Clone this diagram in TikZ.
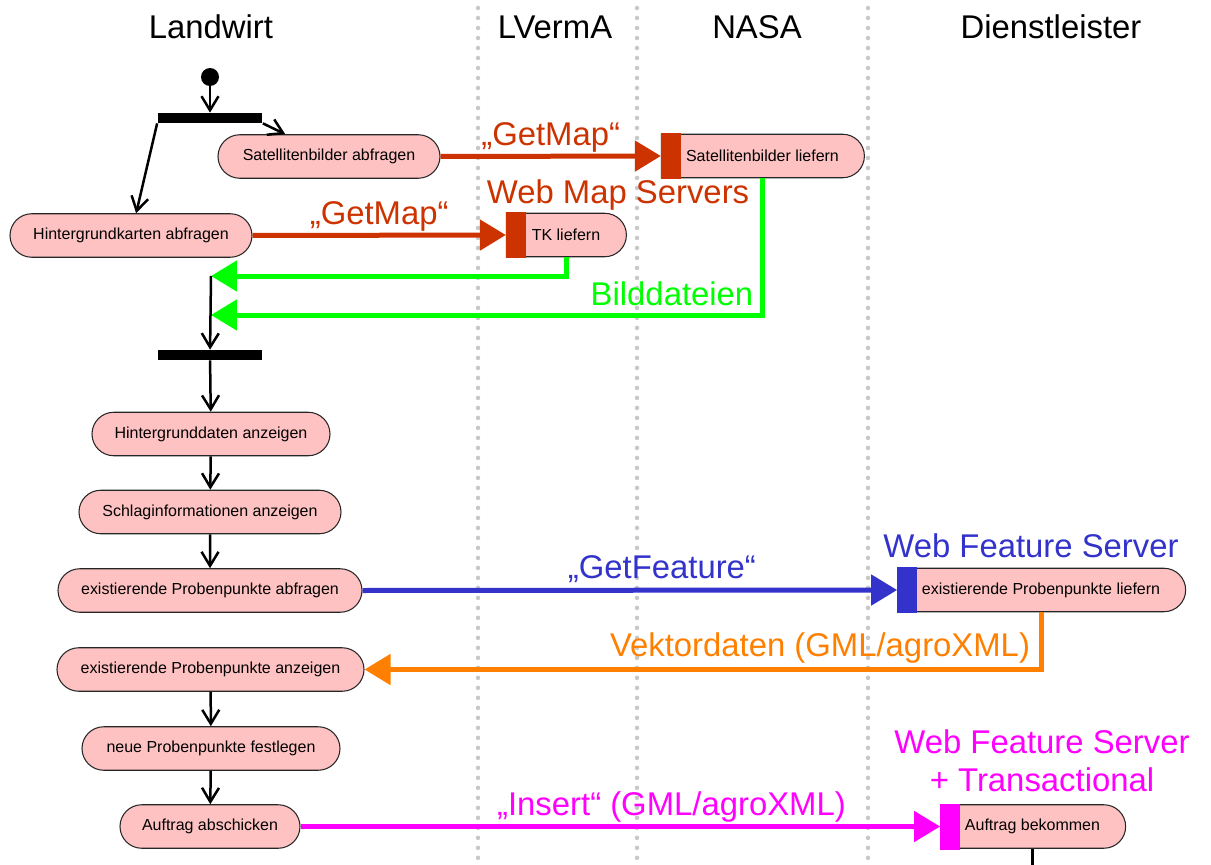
\documentclass[tikz,border=0pt]{standalone}
\usepackage{fontspec}
\setmainfont{Liberation Sans}
\usetikzlibrary{arrows.meta,shapes.misc}
\definecolor{actfill}{RGB}{255,194,194}
\definecolor{wmsred}{RGB}{204,51,0}
\definecolor{imggreen}{RGB}{0,255,0}
\definecolor{wfsblue}{RGB}{51,51,204}
\definecolor{gmlorange}{RGB}{255,128,0}
\definecolor{wfstmag}{RGB}{255,0,255}
\definecolor{lanegray}{RGB}{200,200,200}

\begin{document}
\begin{tikzpicture}[x=0.02cm, y=-0.02cm,
		wd/.style={minimum width=#1*0.02cm},
		action/.style={rounded rectangle, draw=black!85, line width=0.6pt, fill=actfill, minimum height=0.87cm, inner sep=0pt, font=\fontsize{9.1}{11}\selectfont},
		receive/.style={action, rounded rectangle west arc=none},
		syncbar/.style={fill=black, minimum width=2.1cm, minimum height=0.2cm, inner sep=0pt},
		port/.style={fill=#1, minimum width=0.39cm, minimum height=0.92cm, inner sep=0pt},
		lane/.style={lanegray, line width=0.09cm, line cap=round, dash pattern=on 0pt off 0.2cm},
		header/.style={font=\fontsize{18.7}{22}\selectfont},
		msglabel/.style={font=\fontsize{18.7}{21.5}\selectfont, text=#1, inner sep=0pt, align=center},
		flow/.style={line width=0.05cm, -{Straight Barb[length=0.28cm,width=0.34cm]}},
		msg/.style={#1, line width=0.1cm, -{Triangle[length=0.52cm,width=0.6cm]}},
	]
	\useasboundingbox (0,0) rectangle (1211,865);
	\draw[lane] (478,8) -- (478,865);
	\draw[lane] (637,8) -- (637,865);
	\draw[lane] (868,8) -- (868,865);
	\node[header] (hFarmer) at (211,27) {Landwirt};
	\node[header] (hSurvey) at (555,27) {LVermA};
	\node[header] (hNasa)   at (757,27) {NASA};
	\node[header] (hProvider) at (1051,27) {Dienstleister};

	\node[circle, fill=black, minimum size=0.36cm, inner sep=0pt] (start) at (210,77) {};
	\node[syncbar] (fork) at (210,118) {};
	\node[action, wd=222] (satQuery) at (329,156.5) {Satellitenbilder abfragen};
	\node[action, wd=242] (bgQuery)  at (131,235.5) {Hintergrundkarten abfragen};
	\node[receive, wd=203] (satDeliver) at (762.5,156) {Satellitenbilder liefern};
	\node[port=wmsred, anchor=west] (satPort) at (satDeliver.west) {};
	\node[receive, wd=120] (tkDeliver) at (566,235) {TK liefern};
	\node[port=wmsred, anchor=west] (tkPort) at (tkDeliver.west) {};
	\coordinate (m1) at (211,276);
	\coordinate (m2) at (211,315);
	\node[syncbar] (join) at (210,355) {};
	\node[action, wd=238] (showBg)    at (211,434)   {Hintergrunddaten anzeigen};
	\node[action, wd=262] (showField) at (210,512)   {Schlaginformationen anzeigen};
	\node[action, wd=304] (queryPts)  at (210,590.5) {existierende Probenpunkte abfragen};
	\node[receive, wd=288] (deliverPts) at (1041,590) {existierende Probenpunkte liefern};
	\node[port=wfsblue, anchor=west] (wfsPort) at (deliverPts.west) {};
	\node[action, wd=307] (showPts)   at (210.5,669.5) {existierende Probenpunkte anzeigen};
	\node[action, wd=258] (newPts)    at (211,748.5) {neue Probenpunkte festlegen};
	\node[action, wd=180] (sendOrder) at (210,826.5) {Auftrag abschicken};
	\node[receive, wd=185] (getOrder) at (1032.5,826.5) {Auftrag bekommen};
	\node[port=wfstmag, anchor=west] (wfstPort) at (getOrder.west) {};
	\coordinate (exit) at (1032.5,868);

	\node[msglabel=wmsred]    (wmsLabel)  at (618,195)  {Web Map Servers};
	\node[msglabel=imggreen]  (imgLabel)  at (672,294)  {Bilddateien};
	\node[msglabel=wfsblue]   (wfsLabel)  at (1031,546) {Web Feature Server};
	\node[msglabel=gmlorange] (gmlLabel)  at (820,648)  {Vektordaten (GML/agroXML)};
	\node[msglabel=wfstmag]   (wfstLabel) at (1042,761) {Web Feature Server\\+ Transactional};

	\draw[flow] (start) -- (fork);
	\draw[flow] (fork.south east) -- (satQuery.153);
	\draw[flow] (fork.south west) -- (bgQuery.77);
	\draw[msg=wmsred] (satQuery.east) -- (satPort.west) node[midway, above=1pt, msglabel=wmsred] {„GetMap“};
	\draw[msg=wmsred] (bgQuery.east) -- (tkPort.west) node[midway, above=1pt, msglabel=wmsred] {„GetMap“};
	\draw[msg=imggreen] (tkDeliver.south) |- (m1);
	\draw[msg=imggreen] (satDeliver.south) |- (m2);
	\draw[flow] (m1) -- (join);
	\draw[flow] (join) -- (showBg);
	\draw[flow] (showBg) -- (showField);
	\draw[flow] (showField) -- (queryPts);
	\draw[msg=wfsblue] (queryPts.east) -- (wfsPort.west) node[pos=0.56, above=3pt, msglabel=wfsblue] {„GetFeature“};
	\draw[msg=gmlorange] (deliverPts.south) |- (showPts.east);
	\draw[flow] (showPts) -- (newPts);
	\draw[flow] (newPts) -- (sendOrder);
	\draw[msg=wfstmag] (sendOrder.east) -- (wfstPort.west) node[pos=0.58, above=1pt, msglabel=wfstmag] {„Insert“ (GML/agroXML)};
	\draw[line width=0.05cm] (getOrder.south) -- (exit);
\end{tikzpicture}
\end{document}
